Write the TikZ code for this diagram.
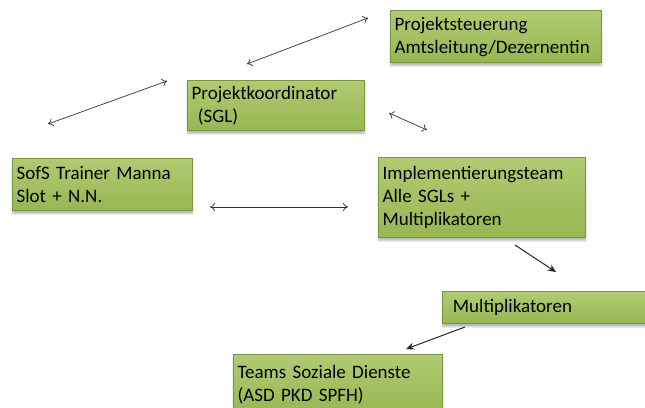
\documentclass[tikz,border=0pt]{standalone}
\usepackage{fontspec}
\setmainfont{Carlito}
\usetikzlibrary{shadows.blur,arrows.meta}
\definecolor{gtop}{HTML}{B0CB72}
\definecolor{gbot}{HTML}{96B752}
\definecolor{gbord}{HTML}{7A9540}
\tikzset{
  box/.style={draw=gbord, line width=1.2pt, top color=gtop, bottom color=gbot,
    anchor=north west, align=left, inner sep=4pt, font=\fontsize{19}{23}\selectfont,
    blur shadow={shadow xshift=0pt, shadow yshift=-3pt, shadow blur steps=6, shadow opacity=30}},
  dbl/.style={{To[length=5pt,width=8pt]}-{To[length=5pt,width=8pt]}, line width=0.7pt, black!80},
  sgl/.style={-{Stealth[length=8pt,width=7pt]}, line width=1pt, black!85}
}
\begin{document}
\begin{tikzpicture}[x=1pt,y=-1pt]
\useasboundingbox (0,0) rectangle (645,407);
\node[box, minimum width=211pt, minimum height=52pt, text width=203pt] (steu) at (390,10) {Projektsteuerung\\Amtsleitung/Dezernentin};
\node[box, minimum width=177pt, minimum height=50pt, text width=169pt] (koord) at (187,80) {Projektkoordinator\\\ (SGL)};
\node[box, minimum width=180pt, minimum height=52pt, text width=172pt] (sofs) at (12,158) {SofS Trainer Manna\\Slot + N.N.};
\node[box, minimum width=207pt, minimum height=80pt, text width=199pt] (impl) at (378,157) {Implementierungsteam\\Alle SGLs +\\Multiplikatoren};
\node[box, minimum width=210pt, minimum height=32pt, text width=202pt] (mult) at (442,291) {\ Multiplikatoren};
\node[box, minimum width=209pt, minimum height=60pt, text width=201pt] (teams) at (233,354) {Teams Soziale Dienste\\(ASD PKD SPFH)};
\coordinate (a1) at (247,64); \coordinate (a2) at (368,18);
\coordinate (b1) at (48,124); \coordinate (b2) at (167,81);
\coordinate (c1) at (389,113); \coordinate (c2) at (427,130);
\coordinate (d1) at (210,207); \coordinate (d2) at (348,207);
\coordinate (e1) at (515,245); \coordinate (e2) at (556,272);
\coordinate (f1) at (465,327); \coordinate (f2) at (406,349);
\draw[dbl] (a1) -- (a2);
\draw[dbl] (b1) -- (b2);
\draw[dbl] (c1) -- (c2);
\draw[dbl] (d1) -- (d2);
\draw[sgl] (e1) -- (e2);
\draw[sgl] (f1) -- (f2);
\end{tikzpicture}
\end{document}
